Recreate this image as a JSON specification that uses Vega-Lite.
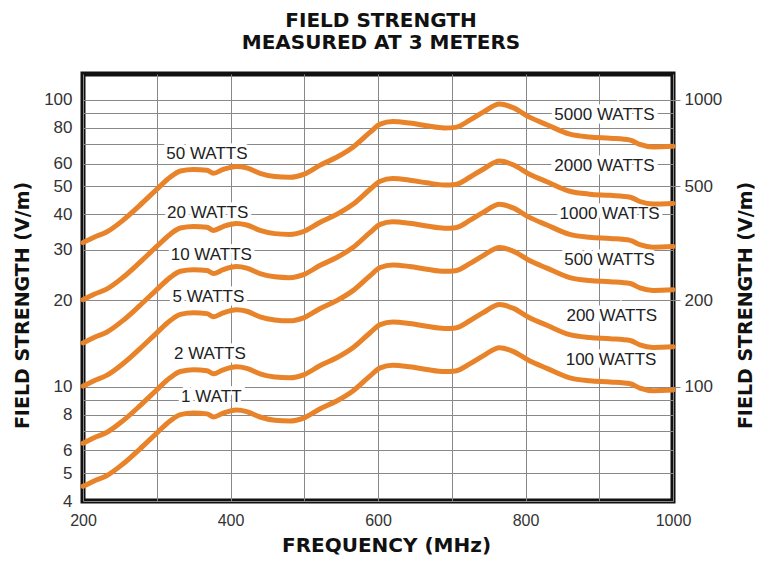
{
  "$schema": "https://vega.github.io/schema/vega-lite/v6.json",
  "width": 590,
  "height": 427,
  "autosize": "none",
  "padding": {"left": 83, "top": 74, "right": 96, "bottom": 64},
  "background": "white",
  "config": {
    "view": {"stroke": "#111111", "strokeWidth": 5},
    "axis": {"gridColor": "#888888", "gridWidth": 1, "gridOpacity": 1, "domain": false, "labelFont": "Liberation Sans", "labelFontSize": 16, "labelColor": "#333333", "titleFont": "DejaVu Sans", "titleFontWeight": "bold", "titleFontSize": 19, "titleColor": "#111111"}
  },
  "title": {
    "text": ["FIELD STRENGTH", "MEASURED AT 3 METERS"],
    "font": "DejaVu Sans",
    "fontSize": 20,
    "fontWeight": "bold",
    "color": "#111111",
    "lineHeight": 22,
    "anchor": "middle",
    "frame": "group",
    "baseline": "bottom",
    "offset": 1,
    "dx": 3
  },
  "datasets": {
    "curves": [
      {"f": 200, "w1": 4.5, "w2": 6.36, "w5": 10.06, "w10": 14.23, "w20": 20.12, "w50": 31.82},
      {"f": 215, "w1": 4.7, "w2": 6.65, "w5": 10.51, "w10": 14.86, "w20": 21.02, "w50": 33.23},
      {"f": 232, "w1": 4.9, "w2": 6.93, "w5": 10.96, "w10": 15.5, "w20": 21.91, "w50": 34.65},
      {"f": 254, "w1": 5.38, "w2": 7.61, "w5": 12.03, "w10": 17.01, "w20": 24.06, "w50": 38.04},
      {"f": 277, "w1": 6.07, "w2": 8.58, "w5": 13.57, "w10": 19.2, "w20": 27.15, "w50": 42.92},
      {"f": 300, "w1": 6.9, "w2": 9.76, "w5": 15.43, "w10": 21.82, "w20": 30.86, "w50": 48.79},
      {"f": 318, "w1": 7.6, "w2": 10.75, "w5": 16.99, "w10": 24.03, "w20": 33.99, "w50": 53.74},
      {"f": 332, "w1": 8.0, "w2": 11.31, "w5": 17.89, "w10": 25.3, "w20": 35.78, "w50": 56.57},
      {"f": 350, "w1": 8.1, "w2": 11.46, "w5": 18.11, "w10": 25.61, "w20": 36.22, "w50": 57.28},
      {"f": 368, "w1": 8.05, "w2": 11.38, "w5": 18.0, "w10": 25.46, "w20": 36.0, "w50": 56.92},
      {"f": 377, "w1": 7.85, "w2": 11.1, "w5": 17.55, "w10": 24.82, "w20": 35.11, "w50": 55.51},
      {"f": 390, "w1": 8.1, "w2": 11.46, "w5": 18.11, "w10": 25.61, "w20": 36.22, "w50": 57.28},
      {"f": 408, "w1": 8.3, "w2": 11.74, "w5": 18.56, "w10": 26.25, "w20": 37.12, "w50": 58.69},
      {"f": 422, "w1": 8.2, "w2": 11.6, "w5": 18.34, "w10": 25.93, "w20": 36.67, "w50": 57.98},
      {"f": 440, "w1": 7.85, "w2": 11.1, "w5": 17.55, "w10": 24.82, "w20": 35.11, "w50": 55.51},
      {"f": 460, "w1": 7.65, "w2": 10.82, "w5": 17.11, "w10": 24.19, "w20": 34.21, "w50": 54.09},
      {"f": 480, "w1": 7.6, "w2": 10.75, "w5": 16.99, "w10": 24.03, "w20": 33.99, "w50": 53.74},
      {"f": 500, "w1": 7.8, "w2": 11.03, "w5": 17.44, "w10": 24.67, "w20": 34.88, "w50": 55.15},
      {"f": 521, "w1": 8.37, "w2": 11.84, "w5": 18.72, "w10": 26.47, "w20": 37.43, "w50": 59.18},
      {"f": 544, "w1": 8.93, "w2": 12.63, "w5": 19.97, "w10": 28.24, "w20": 39.94, "w50": 63.14},
      {"f": 566, "w1": 9.68, "w2": 13.69, "w5": 21.65, "w10": 30.61, "w20": 43.29, "w50": 68.45},
      {"f": 589, "w1": 10.9, "w2": 15.41, "w5": 24.37, "w10": 34.47, "w20": 48.75, "w50": 77.07},
      {"f": 603, "w1": 11.65, "w2": 16.48, "w5": 26.05, "w10": 36.84, "w20": 52.1, "w50": 82.38},
      {"f": 620, "w1": 11.9, "w2": 16.83, "w5": 26.61, "w10": 37.63, "w20": 53.22, "w50": 84.15},
      {"f": 643, "w1": 11.75, "w2": 16.62, "w5": 26.27, "w10": 37.16, "w20": 52.55, "w50": 83.09},
      {"f": 666, "w1": 11.5, "w2": 16.26, "w5": 25.72, "w10": 36.37, "w20": 51.43, "w50": 81.32},
      {"f": 690, "w1": 11.3, "w2": 15.98, "w5": 25.27, "w10": 35.73, "w20": 50.53, "w50": 79.9},
      {"f": 705, "w1": 11.35, "w2": 16.05, "w5": 25.38, "w10": 35.89, "w20": 50.76, "w50": 80.26},
      {"f": 725, "w1": 12.05, "w2": 17.04, "w5": 26.94, "w10": 38.11, "w20": 53.89, "w50": 85.21},
      {"f": 742, "w1": 12.8, "w2": 18.1, "w5": 28.62, "w10": 40.48, "w20": 57.24, "w50": 90.51},
      {"f": 765, "w1": 13.7, "w2": 19.37, "w5": 30.63, "w10": 43.32, "w20": 61.27, "w50": 96.87},
      {"f": 783, "w1": 13.3, "w2": 18.81, "w5": 29.74, "w10": 42.06, "w20": 59.48, "w50": 94.05},
      {"f": 806, "w1": 12.3, "w2": 17.39, "w5": 27.5, "w10": 38.9, "w20": 55.01, "w50": 86.97},
      {"f": 829, "w1": 11.6, "w2": 16.4, "w5": 25.94, "w10": 36.68, "w20": 51.88, "w50": 82.02},
      {"f": 860, "w1": 10.75, "w2": 15.2, "w5": 24.04, "w10": 33.99, "w20": 48.08, "w50": 76.01},
      {"f": 887, "w1": 10.5, "w2": 14.85, "w5": 23.48, "w10": 33.2, "w20": 46.96, "w50": 74.25},
      {"f": 915, "w1": 10.4, "w2": 14.71, "w5": 23.26, "w10": 32.89, "w20": 46.51, "w50": 73.54},
      {"f": 942, "w1": 10.25, "w2": 14.5, "w5": 22.92, "w10": 32.41, "w20": 45.84, "w50": 72.48},
      {"f": 955, "w1": 9.9, "w2": 14.0, "w5": 22.14, "w10": 31.31, "w20": 44.27, "w50": 70.0},
      {"f": 973, "w1": 9.7, "w2": 13.72, "w5": 21.69, "w10": 30.67, "w20": 43.38, "w50": 68.59},
      {"f": 1000, "w1": 9.75, "w2": 13.79, "w5": 21.8, "w10": 30.83, "w20": 43.6, "w50": 68.94}
    ],
    "labels": [
      {"label": "50 WATTS", "f": 368, "v": 64.6},
      {"label": "20 WATTS", "f": 369, "v": 40.4},
      {"label": "10 WATTS", "f": 374, "v": 28.8},
      {"label": "5 WATTS", "f": 370, "v": 20.5},
      {"label": "2 WATTS", "f": 372, "v": 13.06},
      {"label": "1 WATT", "f": 374, "v": 9.25},
      {"label": "5000 WATTS", "f": 907, "v": 88.3},
      {"label": "2000 WATTS", "f": 907, "v": 58.9},
      {"label": "1000 WATTS", "f": 914, "v": 40.05},
      {"label": "500 WATTS", "f": 914, "v": 27.7},
      {"label": "200 WATTS", "f": 917, "v": 17.7},
      {"label": "100 WATTS", "f": 916, "v": 12.45}
    ],
    "right": [{"r": 100}, {"r": 1000}]
  },
  "layer": [
    {
      "layer": [
        {
          "data": {"name": "labels"},
          "mark": {"type": "text", "font": "Liberation Sans", "fontSize": 17, "fill": "white", "stroke": "white", "strokeWidth": 7, "align": "center", "baseline": "middle"},
          "encoding": {
            "x": {"field": "f", "type": "quantitative", "scale": {"domain": [200, 1000], "nice": false, "zero": false},
              "axis": {"values": [200, 300, 400, 500, 600, 700, 800, 900, 1000], "format": "d", "labelFlush": false, "labelExpr": "datum.value % 200 == 0 ? datum.label : ''", "ticks": false, "labelPadding": 11, "labelFontSize": 16, "title": "FREQUENCY (MHz)", "titleFontSize": 20, "titleX": 303, "titleY": 44, "titleBaseline": "middle", "titleAlign": "center"}},
            "y": {"field": "v", "type": "quantitative", "scale": {"type": "log", "domain": [4, 123.2], "nice": false},
              "axis": {"orient": "left", "values": [4, 5, 6, 7, 8, 9, 10, 20, 30, 40, 50, 60, 70, 80, 90, 100], "format": "d", "labelExpr": "(datum.value == 7 || datum.value == 9 || datum.value == 70 || datum.value == 90) ? '' : datum.label", "ticks": false, "labelPadding": 11, "labelFontSize": 17, "title": "FIELD STRENGTH (V/m)", "titleAngle": 270, "titleX": -61, "titleY": 231, "titleBaseline": "middle", "titleAlign": "center"}},
            "text": {"field": "label", "type": "nominal"}
          }
        },
        {
          "data": {"name": "curves"},
          "transform": [{"fold": ["w1", "w2", "w5", "w10", "w20", "w50"]}],
          "mark": {"type": "line", "color": "#E8832A", "strokeWidth": 5, "interpolate": "monotone", "strokeCap": "round"},
          "encoding": {
            "x": {"field": "f", "type": "quantitative"},
            "y": {"field": "value", "type": "quantitative"},
            "detail": {"field": "key", "type": "nominal"}
          }
        },
        {
          "data": {"name": "labels"},
          "mark": {"type": "text", "font": "Liberation Sans", "fontSize": 17, "color": "#222222", "align": "center", "baseline": "middle"},
          "encoding": {
            "x": {"field": "f", "type": "quantitative"},
            "y": {"field": "v", "type": "quantitative"},
            "text": {"field": "label", "type": "nominal"}
          }
        }
      ]
    },
    {
      "data": {"name": "right"},
      "mark": {"type": "point", "opacity": 0},
      "encoding": {
        "y": {"field": "r", "type": "quantitative", "scale": {"type": "log", "domain": [40, 1232], "nice": false},
          "axis": {"orient": "right", "values": [100, 200, 500, 1000], "format": "d", "grid": false, "ticks": true, "tickSize": 7, "tickColor": "#888888", "labelPadding": 4, "labelFontSize": 17, "title": "FIELD STRENGTH (V/m)", "titleAngle": 270, "titleX": 72, "titleY": 231, "titleBaseline": "middle", "titleAlign": "center"}}
      }
    }
  ],
  "resolve": {"scale": {"y": "independent"}, "axis": {"y": "independent"}}
}
